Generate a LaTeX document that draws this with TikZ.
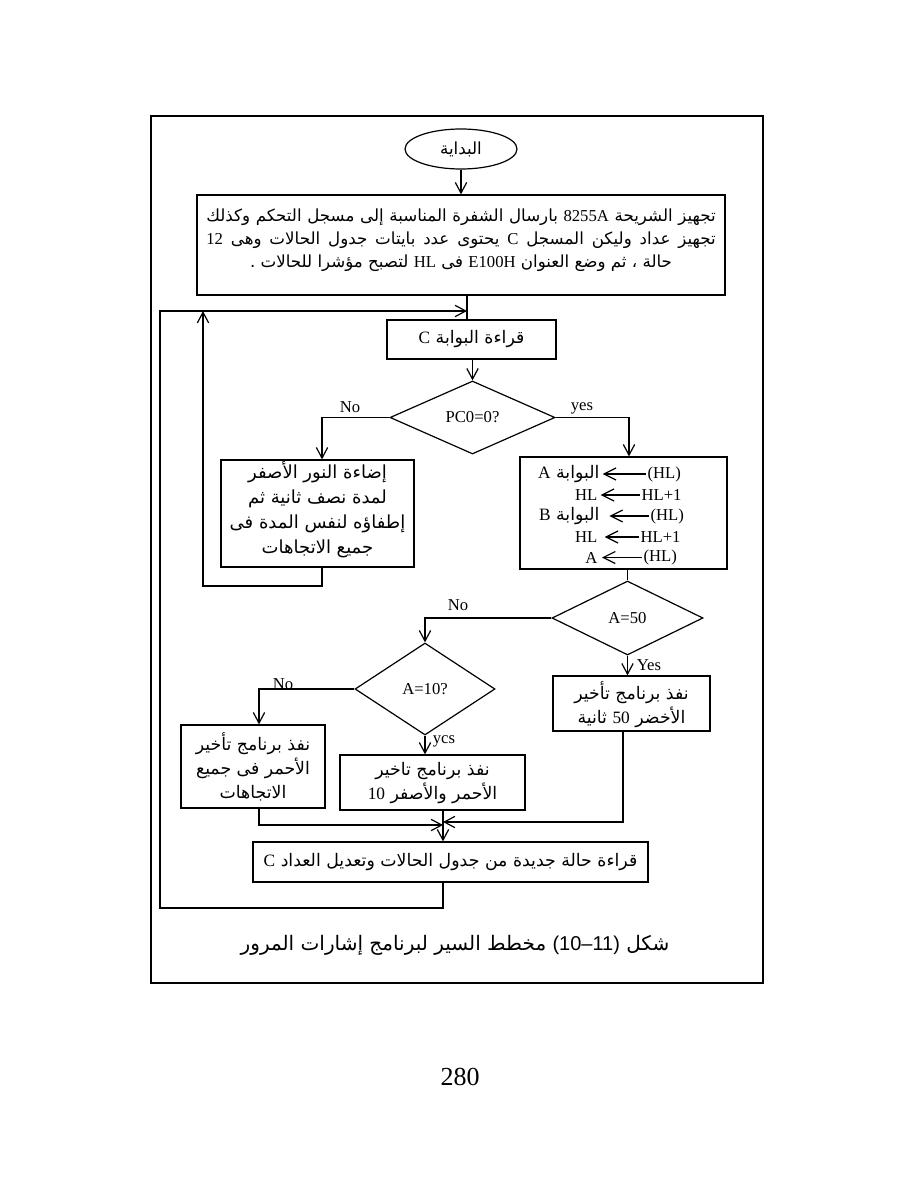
\documentclass[tikz,border=0pt]{standalone}
\usepackage{fontspec}
\setmainfont{Liberation Serif}
\newfontfamily\arabicfont[Script=Arabic]{DejaVu Sans}
\newfontfamily\capsans{Liberation Sans}
\TeXXeTstate=1
\usetikzlibrary{arrows.meta,shapes.geometric,fit}
\newcommand{\RL}[1]{\beginR #1\endR}
\newcommand{\LT}[1]{\beginL{\rmfamily #1}\endL{}}
\begin{document}
\begin{tikzpicture}[x=0.75pt,y=-0.75pt,
  line width=0.9pt,
  arr/.style={-{Straight Barb[length=8pt,width=8.5pt]}},
  opar/.style={-{Straight Barb[length=9pt,width=9pt]}},
  boxfit/.style={draw,rectangle,inner sep=0pt},
  ar/.style={font=\arabicfont\fontsize{13}{18}\selectfont, align=center, inner sep=0pt},
  lat/.style={font=\fontsize{12.5}{14}\selectfont, inner sep=0pt},
  dia/.style={draw,diamond,inner sep=0pt,font=\fontsize{12.5}{14}\selectfont},
]
\useasboundingbox (0,0) rectangle (918,1188);
\draw[line width=1.9pt] (151,116) rectangle (763,983);

% start
\node[draw, ellipse, minimum width=112*0.75pt, minimum height=40*0.75pt, inner sep=0pt,
      font=\arabicfont\fontsize{12.5}{14}\selectfont] (start) at (461,149) {البداية};

% init box
\node[boxfit, fit={(197,195) (725,295)}] (init) {};
\node[ar, font=\arabicfont\fontsize{12.5}{17.25}\selectfont] (initT) at (461,240)
  {\makebox[382pt][s]{\RL{تجهيز الشريحة \LT{8255A} بارسال الشفرة المناسبة إلى مسجل التحكم وكذلك}}\\
   \makebox[382pt][s]{\RL{تجهيز عداد وليكن المسجل \LT{C} يحتوى عدد بايتات جدول الحالات وهى \LT{12}}}\\
   \RL{حالة ، ثم وضع العنوان \LT{E100H} فى \LT{HL} لتصبح مؤشرا للحالات .}};

% read port C
\node[boxfit, fit={(387,320) (556,359)}] (readC) {};
\node[ar] (readCT) at (readC.center) {\RL{قراءة البوابة \LT{C}}};

% decision 1
\node[dia, minimum width=165*0.75pt, minimum height=73*0.75pt] (d1) at (472.5,417.5) {PC0=0?};

% yellow box
\node[boxfit, fit={(221,460) (414,567)}] (yellow) {};
\node[ar, font=\arabicfont\fontsize{13.5}{18.75}\selectfont] (yellowT) at (317.5,510)
  {\RL{إضاءة النور الأصفر}\\\RL{لمدة نصف ثانية ثم}\\\RL{إطفاؤه لنفس المدة فى}\\\RL{جميع الاتجاهات}};

% operations box
\node[boxfit, fit={(520,457) (727,569)}] (ops) {};
\node[ar, anchor=east] (opL1) at (600,474) {\RL{البوابة \LT{A}}};
\node[lat, anchor=west] (opR1) at (647,474) {(HL)};
\node[lat, anchor=east] (opL2) at (598,495) {HL};
\node[lat, anchor=west] (opR2) at (641,495) {HL+1};
\node[ar, anchor=east] (opL3) at (600,516) {\RL{البوابة \LT{B}}};
\node[lat, anchor=west] (opR3) at (650,516) {(HL)};
\node[lat, anchor=east] (opL4) at (598,537) {HL};
\node[lat, anchor=west] (opR4) at (640,537) {HL+1};
\node[lat, anchor=east] (opL5) at (598,557.5) {A};
\node[lat, anchor=west] (opR5) at (643,557.5) {(HL)};
\draw[opar] ([xshift=-1pt]opR1.west) -- ([xshift=2pt]opL1.east);
\draw[opar] ([xshift=-1pt]opR2.west) -- ([xshift=2pt]opL2.east);
\draw[opar] ([xshift=-1pt]opR3.west) -- ([xshift=7pt]opL3.east);
\draw[opar] ([xshift=-1pt]opR4.west) -- ([xshift=5pt]opL4.east);
\draw[opar] ([xshift=-1pt]opR5.west) -- ([xshift=3pt]opL5.east);

% decision 2
\node[dia, minimum width=151*0.75pt, minimum height=74*0.75pt] (d2) at (627.5,618) {A=50};
% green box
\node[boxfit, fit={(553,676) (710,731)}] (green) {};
\node[ar] (greenT) at (631.5,704.5) {\RL{نفذ برنامج تأخير}\\\RL{الأخضر \LT{50} ثانية}};
% decision 3
\node[dia, minimum width=140*0.75pt, minimum height=92*0.75pt] (d3) at (425,689) {A=10?};
% red box
\node[boxfit, fit={(181,725) (325,808)}] (red) {};
\node[ar] (redT) at (253,767) {\RL{نفذ برنامج تأخير}\\\RL{الأحمر فى جميع}\\\RL{الاتجاهات}};
% red-yellow box
\node[boxfit, fit={(340,755) (525,810)}] (mid) {};
\node[ar] (midT) at (432.5,783.5) {\RL{نفذ برنامج تاخير}\\\RL{الأحمر والأصفر \LT{10}}};
% final box
\node[boxfit, fit={(253,842) (648,882)}] (final) {};
\node[ar] (finalT) at (final.center) {\RL{قراءة حالة جديدة من جدول الحالات وتعديل العداد \LT{C}}};

% labels
\node[lat] (lNo1) at (350,407) {No};
\node[lat] (lYes1) at (582,408) {yes};
\node[lat] (lNo2) at (458,605) {No};
\node[lat] (lYes2) at (649,665) {Yes};
\node[lat] (lNo3) at (283,684) {No};
\node[lat] (lYes3) at (444,741) {ycs};

% coordinates
\coordinate (jn) at (467,311);
\coordinate (yx) at (322,586);
\coordinate (yl) at (203,586);
\coordinate (lb) at (160,908);
\coordinate (mL) at (443,825);
\coordinate (mR) at (443,822);
\coordinate (rx) at (259,0);
\coordinate (gx) at (623,0);
\coordinate (ox) at (629,0);

% connectors
\draw[arr] (start.south) -- (start.south |- init.north);
\draw (init.south -| jn) -- (readC.north -| jn);
\draw[arr] (readC.south -| d1.north) -- (d1.north);
\draw[arr] (d1.west) -| (yellow.north -| yx);
\draw[arr] (d1.east) -| (ops.north -| ox);
\draw[arr] (yellow.south -| yx) -- (yx) -- (yl) -- (yl |- jn);
\draw (ops.south -| d2.north) -- (d2.north);
\draw[arr] (d2.west) -| (d3.north);
\draw[arr] (d2.south) -- (d2.south |- green.north);
\draw[arr] (d3.west) -| (red.north -| rx);
\draw[arr] (d3.south) -- (d3.south |- mid.north);
\draw[arr] (red.south -| rx) |- (mL);
\draw[arr] (green.south -| gx) |- (mR);
\draw[arr] (mid.south -| mL) -- (final.north -| mL);
\draw[arr] (final.south -| mL) |- (lb) |- (jn);

% caption and page number
\node[font=\arabicfont\fontsize{15}{17}\selectfont, inner sep=0pt] (cap) at (455,945)
  {\RL{شكل \beginL{\capsans (10–11)}\endL{} مخطط السير لبرنامج إشارات المرور}};
\node[font=\fontsize{19.5}{22}\selectfont, inner sep=0pt] (pg) at (460,1077) {280};
\end{tikzpicture}
\end{document}
